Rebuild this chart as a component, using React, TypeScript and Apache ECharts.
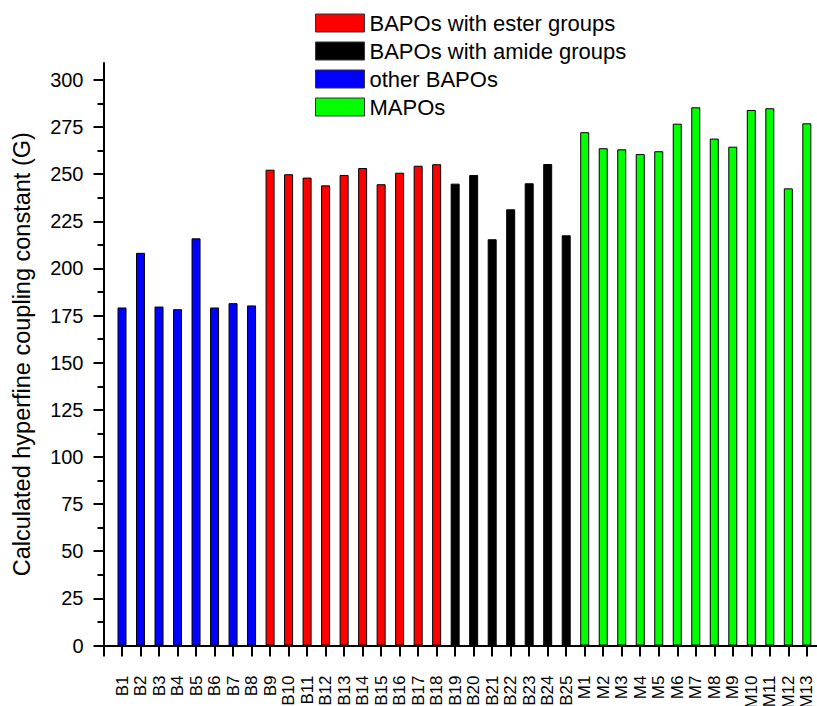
import React, { useEffect, useRef } from "react";
import * as echarts from "echarts";

const categories = [
  "B1", "B2", "B3", "B4", "B5", "B6", "B7", "B8", "B9", "B10",
  "B11", "B12", "B13", "B14", "B15", "B16", "B17", "B18", "B19", "B20",
  "B21", "B22", "B23", "B24", "B25",
  "M1", "M2", "M3", "M4", "M5", "M6", "M7", "M8", "M9", "M10", "M11", "M12", "M13",
];

const otherCats = ["B1", "B2", "B3", "B4", "B5", "B6", "B7", "B8"];
const otherVals = [179.3, 208.3, 179.8, 178.4, 216.0, 179.3, 181.6, 180.4];

const esterCats = ["B9", "B10", "B11", "B12", "B13", "B14", "B15", "B16", "B17", "B18"];
const esterVals = [252.4, 250.0, 248.2, 244.1, 249.6, 253.3, 244.7, 250.8, 254.5, 255.3];

const amideCats = ["B19", "B20", "B21", "B22", "B23", "B24", "B25"];
const amideVals = [245.0, 249.6, 215.5, 231.4, 245.2, 255.4, 217.6];

const mapoCats = ["M1", "M2", "M3", "M4", "M5", "M6", "M7", "M8", "M9", "M10", "M11", "M12", "M13"];
const mapoVals = [272.3, 263.8, 263.2, 260.7, 262.2, 276.8, 285.5, 268.9, 264.6, 284.1, 285.0, 242.5, 277.0];

const yMajorTicks = [0, 25, 50, 75, 100, 125, 150, 175, 200, 225, 250, 275, 300];
const yMinorTicks = [12.5, 37.5, 62.5, 87.5, 112.5, 137.5, 162.5, 187.5, 212.5, 237.5, 262.5, 287.5];

const FONT = "'Liberation Sans', Arial, Helvetica, sans-serif";

function pairs(cats: string[], vals: number[]) {
  return cats.map((c, i) => [categories.indexOf(c) + 1, vals[i]]);
}

export default function App() {
  const ref = useRef<HTMLDivElement>(null);
  useEffect(() => {
    if (!ref.current) return;
    const chart = echarts.init(ref.current, null, { renderer: "svg" });
    const xPositions = categories.map((_, i) => i + 1);
    const xTickPositions = [0, ...xPositions];
    const mkSeries = (name: string, color: string, data: number[][]) => ({
      name,
      type: "bar",
      data,
      barWidth: 9,
      barGap: "-100%",
      itemStyle: { color, borderColor: "#000", borderWidth: 1 },
    });
    chart.setOption({
      animation: false,
      textStyle: { fontFamily: FONT },
      grid: {
        left: 103.5,
        right: 0,
        top: 63,
        bottom: 60.5,
        containLabel: false,
        outerBoundsMode: "none",
      },
      legend: {
        orient: "vertical",
        left: 310,
        top: 7,
        padding: 5,
        icon: "rect",
        itemWidth: 49,
        itemHeight: 18,
        itemGap: 6,
        selectedMode: false,
        itemStyle: { borderColor: "#333", borderWidth: 1 },
        textStyle: { fontSize: 22, lineHeight: 22, color: "#000", fontFamily: FONT },
        data: ["BAPOs with ester groups", "BAPOs with amide groups", "other BAPOs", "MAPOs"],
      },
      xAxis: {
        type: "value",
        min: 0,
        max: 38.55,
        splitLine: { show: false },
        axisLine: { show: true, lineStyle: { color: "#000", width: 2 } },
        axisTick: {
          show: true,
          inside: false,
          length: 11,
          customValues: xTickPositions,
          lineStyle: { color: "#000", width: 2 },
        },
        axisLabel: {
          customValues: xPositions,
          rotate: 90,
          margin: 30,
          fontSize: 17,
          color: "#000",
          fontFamily: FONT,
          hideOverlap: false,
          formatter: (v: number) => categories[Math.round(v) - 1] ?? "",
        },
      },
      yAxis: [
        {
          type: "value",
          min: 0,
          max: 309,
          position: "left",
          name: "Calculated hyperfine coupling constant (G)",
          nameLocation: "middle",
          nameGap: 70,
          nameTextStyle: { fontSize: 23.5, color: "#000", fontFamily: FONT },
          splitLine: { show: false },
          axisLine: { show: true, lineStyle: { color: "#000", width: 2 } },
          axisTick: {
            show: true,
            inside: false,
            length: 10,
            customValues: yMajorTicks,
            lineStyle: { color: "#000", width: 2 },
          },
          axisLabel: {
            customValues: yMajorTicks,
            margin: 20,
            fontSize: 20,
            color: "#000",
            fontFamily: FONT,
          },
        },
        {
          type: "value",
          min: 0,
          max: 309,
          position: "left",
          offset: 0,
          splitLine: { show: false },
          axisLine: { show: false },
          axisLabel: { show: false },
          axisTick: {
            show: true,
            inside: false,
            length: 6,
            customValues: yMinorTicks,
            lineStyle: { color: "#000", width: 2 },
          },
        },
      ],
      series: [
        mkSeries("BAPOs with ester groups", "#ff0000", pairs(esterCats, esterVals)),
        mkSeries("BAPOs with amide groups", "#000000", pairs(amideCats, amideVals)),
        mkSeries("other BAPOs", "#0000ff", pairs(otherCats, otherVals)),
        mkSeries("MAPOs", "#00ff00", pairs(mapoCats, mapoVals)),
      ],
    });
    return () => chart.dispose();
  }, []);
  return (
    <div
      ref={ref}
      style={{ position: "fixed", left: 0, top: 0, width: 817, height: 706, background: "#fff" }}
    />
  );
}
